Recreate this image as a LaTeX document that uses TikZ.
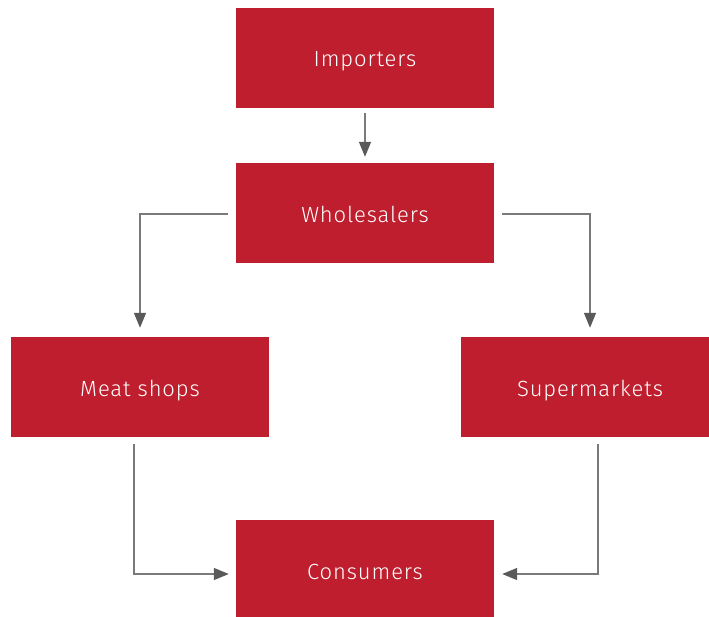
\documentclass[tikz,border=0pt]{standalone}
\usepackage{fontspec}
\setmainfont{Fira Sans Light}
\usetikzlibrary{arrows.meta}
\definecolor{boxred}{HTML}{BE1E2D}
\definecolor{linegray}{HTML}{7A7A7A}
\definecolor{tipgray}{HTML}{5A5A5A}
\tikzset{
  box/.style={fill=boxred, draw=none, minimum width=258pt, minimum height=100pt, inner sep=0pt,
    text=white, font=\fontsize{22}{26}\selectfont, text height=18pt, text depth=0pt},
  conn/.style={draw=linegray, line width=1.4pt,
    -{Triangle[length=15pt,width=12pt,fill=tipgray,color=tipgray]}}
}
\begin{document}
\begin{tikzpicture}[x=1pt,y=-1pt]
\useasboundingbox (0,0) rectangle (709,616);
\clip (0,0) rectangle (709,616);
\node[box] (imp) at (365,57.5) {\addfontfeature{LetterSpace=4}Importers};
\node[box] (who) at (365,213) {\addfontfeature{LetterSpace=4}Wholesalers};
\node[box] (meat) at (140,387) {\addfontfeature{LetterSpace=4}Meat shops};
\node[box] (sup) at (590,387) {\addfontfeature{LetterSpace=4}Supermarkets};
\node[box] (con) at (365,570) {\addfontfeature{LetterSpace=4}Consumers};
\path[conn, shorten <=5pt, shorten >=6pt] (imp.south) -- (who.north);
\path[conn, shorten <=8pt, shorten >=9pt] ([yshift=-1pt]who.west) -| (meat.north);
\path[conn, shorten <=8pt, shorten >=9pt] ([yshift=-1pt]who.east) -| (sup.north);
\path[conn, shorten <=7pt, shorten >=7pt] ([xshift=-6pt]meat.south) |- ([yshift=-4pt]con.west);
\path[conn, shorten <=7pt, shorten >=8pt] ([xshift=8pt]sup.south) |- ([yshift=-4pt]con.east);
\end{tikzpicture}
\end{document}
